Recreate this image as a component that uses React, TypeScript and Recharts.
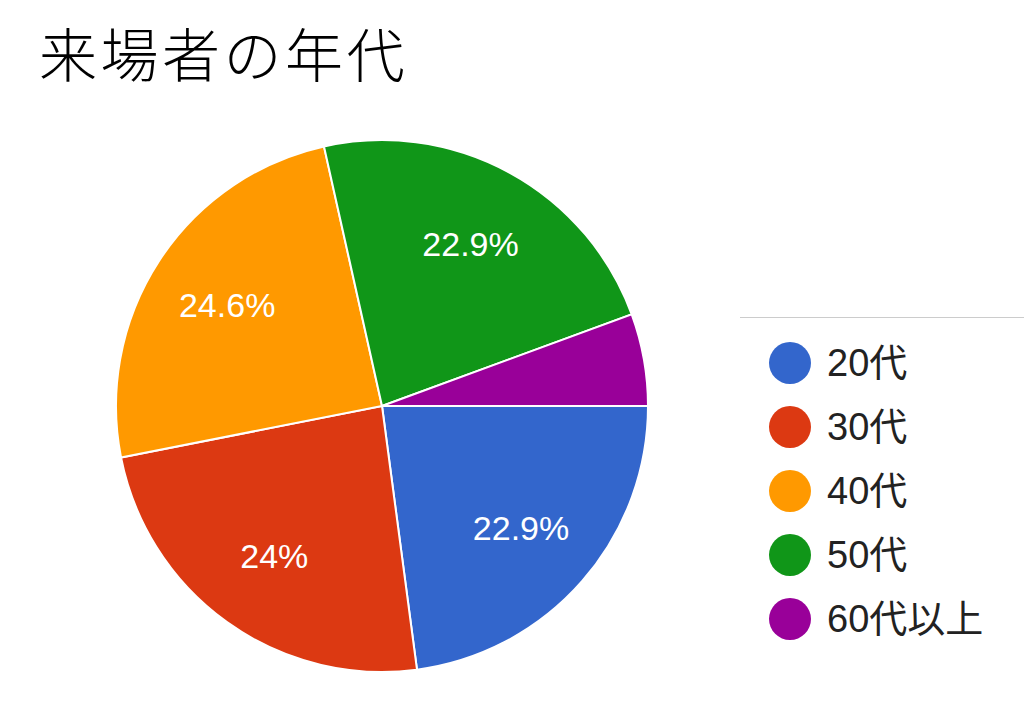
import React from "react";
import { PieChart, Pie, Cell, Legend } from "recharts";

const categories = ["20代", "30代", "40代", "50代", "60代以上"];
const values = [22.9, 24.0, 24.6, 22.9, 5.6];
const labels = ["22.9%", "24%", "24.6%", "22.9%", ""];
const colors = ["#3366cc", "#dc3912", "#ff9900", "#109618", "#990099"];

const data = categories.map((name, i) => ({ name, value: values[i], label: labels[i] }));

const RAD = Math.PI / 180;

const renderLabel = (props: any) => {
  const { cx, cy, midAngle, outerRadius, index } = props;
  const text = labels[index];
  if (!text) return null;
  const r = outerRadius * 0.695;
  const x = cx + r * Math.cos(-midAngle * RAD);
  const y = cy + r * Math.sin(-midAngle * RAD);
  return (
    <text
      x={x}
      y={y}
      fill="#ffffff"
      textAnchor="middle"
      dominantBaseline="central"
      style={{ fontFamily: "'Liberation Sans', Arial, sans-serif", fontSize: 34 }}
    >
      {text}
    </text>
  );
};

const LegendContent = () => (
  <div>
    {categories.map((c, i) => (
      <div key={c} style={{ display: "flex", alignItems: "center", height: 64 }}>
        <div
          style={{
            width: 42,
            height: 42,
            borderRadius: "50%",
            background: colors[i],
            marginRight: 16,
          }}
        />
        <span
          style={{
            fontFamily: "'Liberation Sans', Arial, 'Noto Sans CJK JP', sans-serif",
            fontSize: 38,
            color: "#222222",
            lineHeight: 1,
          }}
        >
          {c}
        </span>
      </div>
    ))}
  </div>
);

export default function App() {
  return (
    <div
      style={{
        position: "fixed",
        left: 0,
        top: 0,
        width: 1024,
        height: 728,
        background: "#ffffff",
        overflow: "hidden",
      }}
    >
      <div
        style={{
          position: "absolute",
          left: 39,
          top: 23,
          fontFamily: "'Noto Sans CJK JP', sans-serif",
          fontWeight: 300,
          fontSize: 58,
          lineHeight: 1,
          letterSpacing: 3.5,
          color: "#000000",
          whiteSpace: "nowrap",
        }}
      >
        来場者の年代
      </div>
      <div
        style={{
          position: "absolute",
          left: 740,
          top: 317,
          width: 284,
          height: 1,
          background: "#cccccc",
        }}
      />
      <div style={{ position: "absolute", left: 0, top: 0 }}>
        <PieChart width={1024} height={728} margin={{ top: 0, right: 0, bottom: 0, left: 0 }}>
          <Pie
            data={data}
            dataKey="value"
            nameKey="name"
            cx={382}
            cy={406}
            outerRadius={266}
            innerRadius={0}
            startAngle={0}
            endAngle={-360}
            stroke="#ffffff"
            strokeWidth={2}
            label={renderLabel}
            labelLine={false}
            isAnimationActive={false}
          >
            {data.map((d, i) => (
              <Cell key={d.name} fill={colors[i]} />
            ))}
          </Pie>
          <Legend
            content={<LegendContent />}
            wrapperStyle={{ position: "absolute", left: 769, top: 331, width: 250 }}
          />
        </PieChart>
      </div>
    </div>
  );
}
